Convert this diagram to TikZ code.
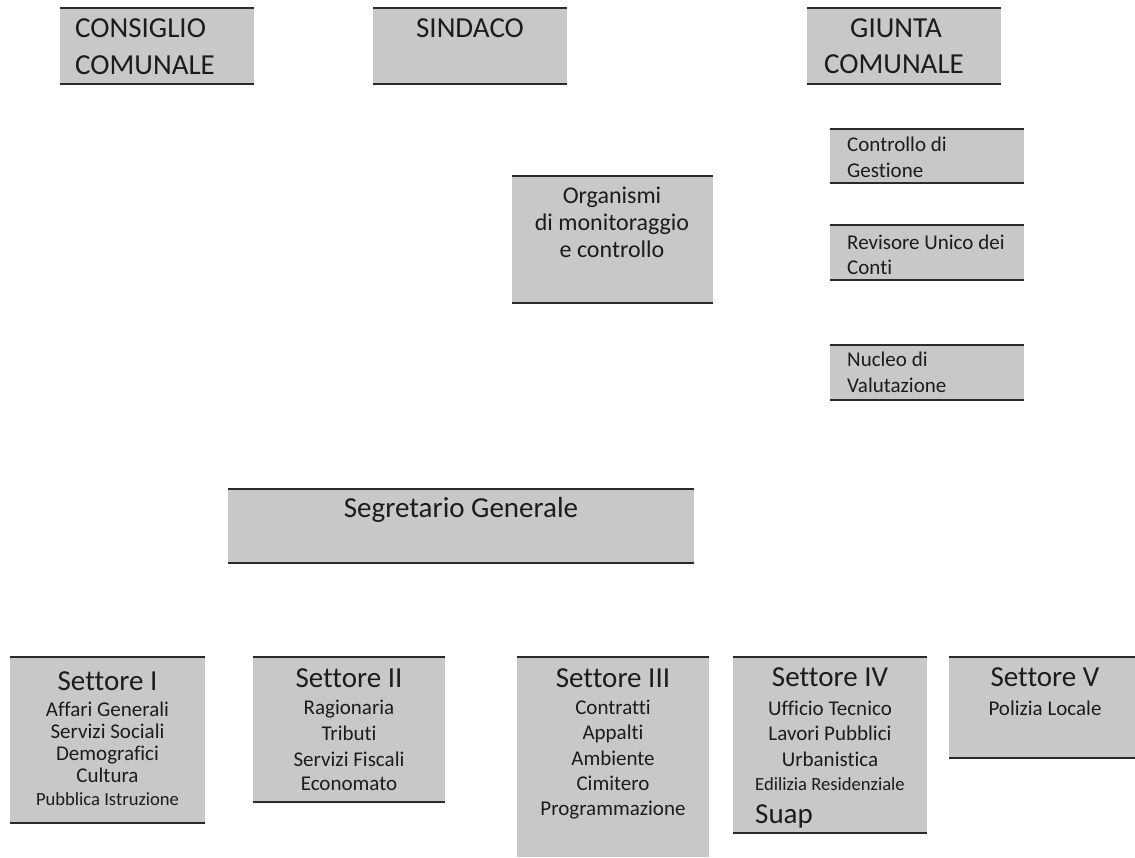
\documentclass[tikz,border=0pt]{standalone}
\usepackage{fontspec}
\setmainfont{Carlito}[Ligatures={NoCommon}]
\definecolor{boxgray}{HTML}{C8C8C8}
\definecolor{edgecol}{HTML}{2A2A2A}
\definecolor{ink}{HTML}{1C1C1C}
\tikzset{
  panel/.style={fill=boxgray, draw=none, inner sep=0, outer sep=0},
  rulebar/.style={draw=edgecol, line width=2.6pt},
  big/.style={font=\fontsize{29}{35}\selectfont, text=ink, inner sep=0, anchor=base},
  mid/.style={font=\fontsize{24}{28}\selectfont, text=ink, inner sep=0, anchor=base},
  sub/.style={font=\fontsize{21}{25}\selectfont, text=ink, inner sep=0, anchor=base},
  small/.style={font=\fontsize{18.6}{22}\selectfont, text=ink, inner sep=0, anchor=base},
}
\begin{document}
\begin{tikzpicture}[x=1pt,y=-1pt]
\fill[white] (0,0) rectangle (1135,857);
\useasboundingbox (0,0) rectangle (1135,857);

% boxes
\node[panel, minimum width=194, minimum height=76] (cons) at (157,46) {};
\node[panel, minimum width=194, minimum height=76] (sind) at (470,46) {};
\node[panel, minimum width=194, minimum height=76] (giun) at (904,46) {};
\node[panel, minimum width=194, minimum height=54] (ctrl) at (927,156) {};
\node[panel, minimum width=194, minimum height=55] (revi) at (927,252.5) {};
\node[panel, minimum width=194, minimum height=55] (nucl) at (927,372.5) {};
\node[panel, minimum width=201, minimum height=127] (orga) at (612.5,239.5) {};
\node[panel, minimum width=466, minimum height=74] (segr) at (461,526) {};
\node[panel, minimum width=195, minimum height=166] (s1) at (107.5,740) {};
\node[panel, minimum width=192, minimum height=145] (s2) at (349,729.5) {};
\node[panel, minimum width=192, minimum height=200] (s3) at (613,757) {};
\node[panel, minimum width=194, minimum height=176] (s4) at (830,745) {};
\node[panel, minimum width=186, minimum height=101] (s5) at (1042,707.5) {};

\foreach \n in {cons,sind,giun,ctrl,revi,nucl,orga,segr,s1,s2,s3,s4,s5}
  \draw[rulebar] (\n.north west) -- (\n.north east);
\foreach \n in {cons,sind,giun,ctrl,revi,nucl,orga,segr,s1,s2,s4,s5}
  \draw[rulebar] (\n.south west) -- (\n.south east);

% top row
\node[big, anchor=base west] (t-cons1) at (75,37) {CONSIGLIO};
\node[big, anchor=base west] (t-cons2) at (75,74) {COMUNALE};
\node[big] (t-sind) at (470,37) {SINDACO};
\node[big] (t-giun1) at (896,37) {GIUNTA};
\node[big] (t-giun2) at (894,73) {COMUNALE};

% control bodies
\node[sub, anchor=base west] (t-ctrl1) at (847,151) {Controllo di};
\node[sub, anchor=base west] (t-ctrl2) at (847,177) {Gestione};
\node[sub, anchor=base west] (t-revi1) at (847,249) {Revisore Unico dei};
\node[sub, anchor=base west] (t-revi2) at (847,274) {Conti};
\node[sub, anchor=base west] (t-nucl1) at (847,366) {Nucleo di};
\node[sub, anchor=base west] (t-nucl2) at (847,392) {Valutazione};

\node[mid] (t-orga1) at (612,203) {Organismi};
\node[mid] (t-orga2) at (612,230) {di monitoraggio};
\node[mid] (t-orga3) at (612,257) {e controllo};

\node[big] (t-segr) at (461,517) {Segretario Generale};

% Settore I
\node[big] (t-s1) at (107.5,690) {Settore I};
\node[sub] (t-s1a) at (107.5,716) {Affari Generali};
\node[sub] (t-s1b) at (107.5,738) {Servizi Sociali};
\node[sub] (t-s1c) at (107.5,760) {Demografici};
\node[sub] (t-s1d) at (107.5,782) {Cultura};
\node[small] (t-s1e) at (107.5,805) {Pubblica Istruzione};

% Settore II
\node[big] (t-s2) at (349,687) {Settore II};
\node[sub] (t-s2a) at (349,714) {Ragionaria};
\node[sub] (t-s2b) at (349,740) {Tributi};
\node[sub] (t-s2c) at (349,766) {Servizi Fiscali};
\node[sub] (t-s2d) at (349,790) {Economato};

% Settore III
\node[big] (t-s3) at (613,687) {Settore III};
\node[sub] (t-s3a) at (613,714) {Contratti};
\node[sub] (t-s3b) at (613,739) {Appalti};
\node[sub] (t-s3c) at (613,765) {Ambiente};
\node[sub] (t-s3d) at (613,790) {Cimitero};
\node[sub] (t-s3e) at (613,815) {Programmazione};

% Settore IV
\node[big] (t-s4) at (830,686) {Settore IV};
\node[sub] (t-s4a) at (830,715) {Ufficio Tecnico};
\node[sub] (t-s4b) at (830,740) {Lavori Pubblici};
\node[sub] (t-s4c) at (830,766) {Urbanistica};
\node[small] (t-s4d) at (830,790) {Edilizia Residenziale};
\node[big, anchor=base west] (t-s4e) at (755,823) {Suap};

% Settore V
\node[big] (t-s5) at (1045,686) {Settore V};
\node[sub] (t-s5a) at (1045,715) {Polizia Locale};
\end{tikzpicture}
\end{document}
